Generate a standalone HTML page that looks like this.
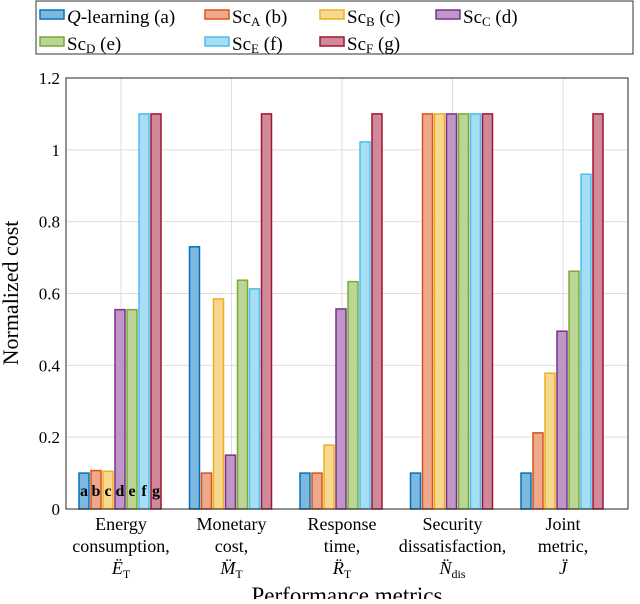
<!DOCTYPE html>
<html><head><meta charset="utf-8"><style>
body{margin:0;background:#fff;}
svg{font-family:"Liberation Serif",serif;}
</style></head><body>
<svg id="c" width="640" height="599"></svg>
<script>
const categories=[["Energy","consumption,","Ë_T"],["Monetary","cost,","M̈_T"],["Response","time,","R̈_T"],["Security","dissatisfaction,","N̈_dis"],["Joint","metric,","J̈"]];
const seriesNames=["Q-learning (a)","ScA (b)","ScB (c)","ScC (d)","ScD (e)","ScE (f)","ScF (g)"];
const sQ=[0.1,0.73,0.1,0.1,0.1];
const sA=[0.107,0.1,0.1,1.1,0.212];
const sB=[0.105,0.585,0.178,1.1,0.378];
const sC=[0.555,0.15,0.557,1.1,0.495];
const sD=[0.555,0.637,0.633,1.1,0.662];
const sE=[1.1,0.613,1.022,1.1,0.932];
const sF=[1.1,1.1,1.1,1.1,1.1];
const yTicks=[0,0.2,0.4,0.6,0.8,1,1.2];
const yTickLabels=["0","0.2","0.4","0.6","0.8","1","1.2"];
const series=[sQ,sA,sB,sC,sD,sE,sF];
const strokes=["#0072BD","#D95319","#EDB120","#7E2F8E","#77AC30","#4DBEEE","#A2142F"];
const fills=["#7FB8DE","#ECA98C","#F6D88F","#BE97C6","#BBD597","#A6DEF6","#D0899A"];
const NS="http://www.w3.org/2000/svg";
const svg=document.getElementById('c');
const L=66,R=628,T=78,B=509;
const y=v=>B-(v/1.2)*(B-T);
const x=i=>121+i*110.5;
function el(t,a,p){const e=document.createElementNS(NS,t);for(const k in a)e.setAttribute(k,a[k]);(p||svg).appendChild(e);return e;}
yTicks.forEach((t,i)=>{
 const g=el('line',{x1:L,x2:R,y1:y(t),y2:y(t),stroke:'#dedede','stroke-width':1});
 
 
 const tx=el('text',{x:L-6,y:y(t)+6,'text-anchor':'end','font-size':17});
 tx.textContent=yTickLabels[i];
 
 
});
categories.forEach((c,i)=>{
 const g=el('line',{x1:x(i),x2:x(i),y1:T,y2:B,stroke:'#dedede','stroke-width':1});
 
 
});
series.forEach((s,j)=>{
 s.forEach((v,i)=>{
  const bx=x(i)-42+j*12;
  const r=el('rect',{x:bx,y:y(v),width:10,height:B-y(v),fill:fills[j],stroke:strokes[j],'stroke-width':1.5});
  
  
  if(i===0){
   const t=el('text',{x:bx+5,y:496,'text-anchor':'middle','font-size':16,'font-weight':'bold'});
   t.textContent=String.fromCharCode(97+j);
   
   
  }
 });
});
const ax=el('rect',{x:L,y:T,width:R-L,height:B-T,fill:'none',stroke:'#262626','stroke-width':1});


categories.forEach((c,i)=>{
 c.forEach((line,k)=>{
  const t=el('text',{x:x(i),y:530+k*22,'text-anchor':'middle','font-size':18});
  if(k===2){const p=line.split('_');t.setAttribute('font-style','italic');t.textContent=p[0];
   if(p[1]){const s=el('tspan',{'font-size':12,dy:4,'font-style':'normal'},t);s.textContent=p[1];}}
  else t.textContent=line;
  
  
 });
});
const xt=el('text',{x:347,y:603,'text-anchor':'middle','font-size':23});
xt.textContent='Performance metrics';


const yt=el('text',{x:0,y:0,'text-anchor':'middle','font-size':22,transform:'translate(18,293) rotate(-90)'});
yt.textContent='Normalized cost';


const lg=el('rect',{x:36,y:1,width:597,height:53,fill:'#fff',stroke:'#333','stroke-width':1});


const lab=[["Q","-learning (a)"],["Sc","A"," (b)"],["Sc","B"," (c)"],["Sc","C"," (d)"],["Sc","D"," (e)"],["Sc","E"," (f)"],["Sc","F"," (g)"]];
const lx=[40,205,320,436],ly=[16,43];
lab.forEach((l,j)=>{
 const px=lx[j%4],py=ly[Math.floor(j/4)];
 const sw=el('rect',{x:px,y:py-6,width:24,height:9,fill:fills[j],stroke:strokes[j],'stroke-width':1.5});
 
 
 const t=el('text',{x:px+27,y:py+7,'font-size':19});
 
 
 if(j===0){const a=el('tspan',{'font-style':'italic'},t);a.textContent='Q';const b=el('tspan',{},t);b.textContent=l[1];}
 else{const a=el('tspan',{},t);a.textContent='Sc';const b=el('tspan',{'font-size':13,dy:3},t);b.textContent=l[1];const c=el('tspan',{dy:-3},t);c.textContent=l[2];}
});
</script>
</body></html>
